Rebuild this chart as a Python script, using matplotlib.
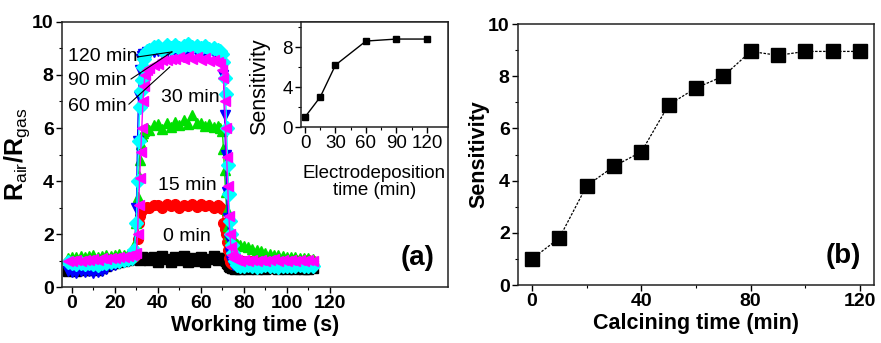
import matplotlib

matplotlib.use('Agg')
import matplotlib.pyplot as plt
from matplotlib.ticker import MultipleLocator

plt.rcParams['font.family'] = 'Liberation Sans'
plt.rcParams['mathtext.fontset'] = 'custom'
plt.rcParams['mathtext.rm'] = 'Liberation Sans'
plt.rcParams['mathtext.bf'] = 'Liberation Sans:bold'

# ---- panel (a): response transients, working time (s)
t = [-2, 0, 2, 4, 6, 8, 10, 12, 14, 16, 18, 20, 22, 24, 26, 28,
     29, 30, 30.5, 31, 31.5, 32, 32.5, 33, 33.5, 34, 35,
     36, 38, 40, 42, 44, 46, 48, 50, 52, 54, 56, 58, 60, 62, 64, 66, 68,
     69, 70, 70.5, 71, 71.5, 72, 72.5, 73, 73.5, 74, 74.5, 75, 76, 77,
     78, 80, 82, 84, 86, 88, 90, 92, 94, 96, 98, 100, 102, 104, 106, 108, 110, 112]

r_0min = [0.62, 0.65, 0.60, 0.68, 0.63, 0.66, 0.70, 0.64, 0.72, 0.80, 0.86, 0.90, 0.95, 1.00, 1.02, 1.05,
          1.06, 1.08, 1.05, 1.10, 1.04, 1.08, 1.12, 1.06, 1.10, 1.05, 1.08,
          1.02, 1.14, 0.96, 1.16, 1.05, 0.94, 1.14, 1.02, 1.16, 0.96, 1.10, 1.00, 1.14, 0.95, 1.06, 1.16, 1.04,
          1.08, 1.05, 1.10, 1.02, 0.98, 0.92, 0.86, 0.80, 0.76, 0.74, 0.72, 0.73, 0.70, 0.72,
          0.70, 0.74, 0.68, 0.72, 0.70, 0.75, 0.69, 0.73, 0.71, 0.68, 0.74, 0.70, 0.72, 0.69, 0.73, 0.70, 0.68, 0.71]
r_15min = [0.95, 1.00, 0.98, 1.02, 0.97, 1.00, 1.03, 0.99, 1.02, 1.05, 1.02, 1.06, 1.04, 1.08, 1.05, 1.10,
           1.12, 1.20, 1.80, 2.40, 2.70, 2.85, 2.90, 2.95, 3.00, 2.98, 3.02,
           2.98, 3.08, 3.10, 2.98, 3.12, 3.04, 3.14, 3.00, 3.10, 3.06, 3.13, 3.02, 3.12, 3.04, 3.10, 3.00, 3.08,
           3.02, 2.95, 2.40, 2.20, 2.00, 1.70, 1.40, 1.10, 0.95, 0.90, 0.88, 0.90, 0.92, 0.95,
           0.95, 0.98, 1.00, 0.97, 1.01, 0.99, 1.02, 0.98, 1.00, 1.03, 0.99, 1.01, 0.98, 1.02, 1.00, 0.99, 1.01, 1.00]
r_30min = [1.10, 1.15, 1.12, 1.18, 1.14, 1.16, 1.20, 1.15, 1.18, 1.22, 1.17, 1.20, 1.24, 1.22, 1.25, 1.30,
           1.60, 2.40, 3.40, 4.20, 4.80, 5.40, 5.70, 5.80, 5.90, 5.95, 6.00,
           5.92, 6.10, 6.14, 5.98, 6.20, 6.04, 6.22, 6.10, 6.30, 6.16, 6.50, 6.20, 6.18, 6.06, 6.16, 6.04, 6.08,
           6.00, 5.90, 5.20, 4.40, 3.60, 2.90, 2.30, 2.00, 1.90, 1.85, 1.80, 1.75, 1.70, 1.62,
           1.58, 1.55, 1.50, 1.45, 1.40, 1.35, 1.30, 1.25, 1.22, 1.20, 1.18, 1.15, 1.14, 1.12, 1.10, 1.10, 1.08, 1.06]
r_60min = [0.60, 0.58, 0.55, 0.62, 0.57, 0.60, 0.55, 0.58, 0.62, 0.70, 0.78, 0.85, 0.90, 0.95, 1.00, 1.05,
           1.20, 3.00, 5.50, 7.20, 8.20, 8.60, 8.70, 8.80, 8.75, 8.80, 8.85,
           8.80, 8.85, 8.90, 8.82, 8.88, 8.92, 8.86, 8.90, 8.94, 8.88, 8.92, 8.86, 8.90, 8.84, 8.88, 8.82, 8.80,
           8.75, 8.60, 8.00, 6.50, 5.00, 3.60, 2.60, 1.80, 1.30, 1.00, 0.90, 0.85, 0.82, 0.80,
           0.80, 0.82, 0.78, 0.80, 0.83, 0.79, 0.81, 0.78, 0.80, 0.82, 0.79, 0.81, 0.80, 0.78, 0.82, 0.80, 0.79, 0.81]
r_90min = [0.95, 0.90, 0.88, 0.92, 0.86, 0.90, 0.88, 0.85, 0.90, 0.92, 0.95, 0.98, 1.00, 1.02, 1.05, 1.10,
           1.40, 2.40, 4.00, 5.50, 6.80, 7.40, 7.80, 8.30, 8.60, 8.80, 8.90,
           8.95, 9.04, 9.08, 8.96, 9.12, 9.00, 9.14, 9.02, 9.08, 9.16, 9.04, 9.10, 9.00, 9.08, 8.98, 9.00, 8.95,
           8.90, 8.80, 8.50, 7.90, 7.30, 6.00, 4.60, 3.50, 2.50, 2.00, 1.60, 1.30, 1.00, 0.85,
           0.80, 0.78, 0.82, 0.80, 0.76, 0.79, 0.82, 0.78, 0.80, 0.77, 0.81, 0.79, 0.80, 0.78, 0.82, 0.80, 0.78, 0.80]
r_120min = [1.00, 0.98, 1.02, 1.00, 1.04, 1.02, 1.06, 1.04, 1.08, 1.06, 1.10, 1.08, 1.12, 1.14, 1.16, 1.20,
            1.25, 1.30, 2.00, 3.10, 4.10, 5.10, 6.00, 7.00, 7.60, 8.00, 8.20,
            8.25, 8.38, 8.42, 8.58, 8.56, 8.62, 8.60, 8.68, 8.62, 8.70, 8.60, 8.66, 8.58, 8.64, 8.54, 8.58, 8.48,
            8.40, 8.20, 7.90, 7.00, 6.00, 4.90, 3.80, 2.70, 2.00, 1.50, 1.20, 1.10, 1.05, 1.02,
            1.00, 1.02, 0.98, 1.03, 1.00, 1.04, 0.99, 1.02, 1.05, 1.00, 1.03, 0.98, 1.02, 1.00, 1.04, 0.99, 1.01, 1.00]

# inset: sensitivity vs electrodeposition time
dep_time = [0, 15, 30, 60, 90, 120]
dep_sens = [1.0, 3.0, 6.2, 8.6, 8.8, 8.8]

# ---- panel (b): sensitivity vs calcining time
calc_time = [0, 10, 20, 30, 40, 50, 60, 70, 80, 90, 100, 110, 120]
calc_sens = [1.0, 1.8, 3.8, 4.55, 5.1, 6.9, 7.55, 8.0, 8.95, 8.8, 8.95, 8.95, 8.95]


def style(ax, size, bold=True):
    for s in ax.spines.values():
        s.set_linewidth(1.1)
        s.set_color('#222222')
    ax.tick_params(which='major', direction='out', length=4, width=1.0, labelsize=size, pad=2)
    ax.tick_params(which='minor', direction='out', length=2.5, width=0.8)
    if bold:
        for lb in ax.get_xticklabels() + ax.get_yticklabels():
            lb.set_fontweight('bold')


fig = plt.figure(figsize=(8.81, 3.43), dpi=100)

ax = fig.add_axes([0.0704, 0.163, 0.438, 0.773])
series = [(r_0min, 'black', 's'), (r_15min, 'red', 'o'), (r_30min, '#00e000', '^'),
          (r_60min, 'blue', 'v'), (r_90min, 'cyan', 'D'), (r_120min, 'magenta', '<')]
for ys, c, m in series:
    ax.plot(t, ys, color=c, lw=1.0, marker=m, ms=7, mec=c, mfc=c)
ax.set_xlim(-4.65, 175)
ax.set_ylim(0, 10)
ax.set_xticks([0, 20, 40, 60, 80, 100, 120])
ax.set_xticks([10, 30, 50, 70, 90, 110], minor=True)
ax.yaxis.set_major_locator(MultipleLocator(2))
ax.yaxis.set_minor_locator(MultipleLocator(1))
style(ax, 14)
ax.set_xlabel('Working time (s)', fontsize=15.5, fontweight='bold', labelpad=2)
ax.set_ylabel(r'$\mathbf{R}_{\mathrm{air}}\mathbf{/R}_{\mathrm{gas}}$', fontsize=18, labelpad=0)

ax.text(-2, 8.68, '120 min', fontsize=14, va='center')
ax.text(-2, 7.8, '90 min', fontsize=14, va='center')
ax.text(-2, 6.8, '60 min', fontsize=14, va='center')
ax.plot([30.5, 46.5], [8.68, 8.87], color='black', lw=0.8)
ax.plot([27.5, 46.5], [7.85, 8.87], color='black', lw=0.8)
ax.plot([26.5, 45.5], [6.9, 8.3], color='black', lw=0.8)
ax.text(55, 7.15, '30 min', fontsize=14, ha='center', va='center')
ax.text(53.5, 3.85, '15 min', fontsize=14, ha='center', va='center')
ax.text(53.5, 1.9, '0 min', fontsize=14, ha='center', va='center')
ax.text(0.965, 0.11, '(a)', transform=ax.transAxes, fontsize=20, fontweight='bold',
        ha='right', va='center')

ins = fig.add_axes([0.3417, 0.6297, 0.1668, 0.306])
ins.plot(dep_time, dep_sens, color='black', lw=1.0, marker='s', ms=5)
ins.set_xlim(-3.9, 140.7)
ins.set_ylim(0, 10.5)
ins.set_xticks([0, 30, 60, 90, 120])
ins.set_xticks([15, 45, 75, 105], minor=True)
ins.set_yticks([0, 4, 8])
ins.set_yticks([2, 6, 10], minor=True)
style(ins, 13.5, bold=False)
ins.set_xlabel('Electrodeposition\ntime (min)', fontsize=13.5, labelpad=9, linespacing=1.0)
ins.set_ylabel('Sensitivity', fontsize=15.5)
ins.yaxis.set_label_coords(-0.21, 0.38)

bx = fig.add_axes([0.588, 0.169, 0.404, 0.761])
bx.plot(calc_time, calc_sens, color='black', lw=0.9, ls=(0, (2, 1.2)), marker='s', ms=10)
bx.set_xlim(-5.1, 125.1)
bx.set_ylim(0, 10)
bx.set_xticks([0, 40, 80, 120])
bx.set_xticks([20, 60, 100], minor=True)
bx.yaxis.set_major_locator(MultipleLocator(2))
bx.yaxis.set_minor_locator(MultipleLocator(1))
style(bx, 14)
bx.set_xlabel('Calcining time (min)', fontsize=15.5, fontweight='bold', labelpad=2)
bx.set_ylabel('Sensitivity', fontsize=15.5, fontweight='bold', labelpad=-1)
bx.text(0.965, 0.11, '(b)', transform=bx.transAxes, fontsize=20, fontweight='bold',
        ha='right', va='center')

fig.savefig('out.png', dpi=100)
